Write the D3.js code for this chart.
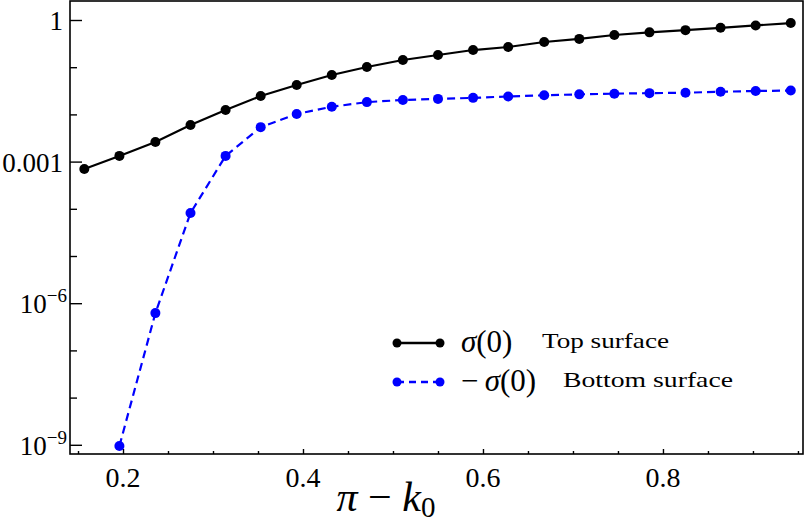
<!DOCTYPE html>
<html>
<head>
<meta charset="utf-8">
<script src="https://cdn.jsdelivr.net/npm/d3@7"></script>
<style>
  body { margin: 0; background: #fff; }
  svg text { font-family: "Liberation Serif", "DejaVu Serif", "Times New Roman", serif; }
</style>
</head>
<body>
<svg id="chart"></svg>
<script>
// x = pi - k0
const xVals = [0.157, 0.196, 0.236, 0.275, 0.314, 0.353, 0.393, 0.432, 0.471, 0.511, 0.550,
               0.589, 0.628, 0.668, 0.707, 0.746, 0.785, 0.825, 0.864, 0.903, 0.942];
// sigma(0), top surface
const topVals = [6.97e-4, 1.32e-3, 2.60e-3, 5.96e-3, 0.0124, 0.0245, 0.042, 0.0684, 0.101, 0.142, 0.181,
                 0.231, 0.268, 0.342, 0.398, 0.481, 0.547, 0.61, 0.684, 0.767, 0.861];
// -sigma(0), bottom surface (starts at second x)
const bottomVals = [null, 9.44e-10, 6.17e-7, 8.13e-5, 1.32e-3, 5.37e-3, 0.0102, 0.0145, 0.0182, 0.0202, 0.0213,
                    0.0224, 0.024, 0.0254, 0.0266, 0.0275, 0.0282, 0.0288, 0.0302, 0.0313, 0.032];

const xTicks = [0.2, 0.4, 0.6, 0.8];
const xMinor = [0.15, 0.25, 0.3, 0.35, 0.45, 0.5, 0.55, 0.65, 0.7, 0.75, 0.85, 0.9, 0.95];
const yTicks = [1, 1e-3, 1e-6, 1e-9];
const yMinor = [1e-1, 1e-2, 1e-4, 1e-5, 1e-7, 1e-8];
const yLabels = [["1", null], ["0.001", null], ["10", "\u22126"], ["10", "\u22129"]];

const W = 806, H = 526;
const plot = { left: 70, right: 803, top: 1, bottom: 454 };
const serif = "'Liberation Serif', 'DejaVu Serif', serif";

const svg = d3.select("#chart").attr("width", W).attr("height", H);

const x = d3.scaleLinear().domain([0.1411, 0.9556]).range([plot.left, plot.right]);
const y = d3.scaleLog().domain([Math.pow(10, -9.195), Math.pow(10, 0.4025)]).range([plot.bottom, plot.top]);

// frame
svg.append("rect")
  .attr("x", plot.left).attr("y", plot.top)
  .attr("width", plot.right - plot.left).attr("height", plot.bottom - plot.top)
  .attr("fill", "none").attr("stroke", "#000").attr("stroke-width", 1.6);

// axes, ticks inward
const axisStyle = g => {
  g.select(".domain").remove();
  g.selectAll(".tick line").attr("stroke", "#000").attr("stroke-width", 1.4);
};

svg.append("g").attr("transform", `translate(0,${plot.bottom})`)
  .call(d3.axisBottom(x).tickValues(xTicks).tickSize(-5).tickFormat(""))
  .call(axisStyle);
svg.append("g").attr("transform", `translate(0,${plot.bottom})`)
  .call(d3.axisBottom(x).tickValues(xMinor).tickSize(-3).tickFormat(""))
  .call(axisStyle);
svg.append("g").attr("transform", `translate(${plot.left},0)`)
  .call(d3.axisLeft(y).tickValues(yTicks).tickSize(-12).tickFormat(""))
  .call(axisStyle);
svg.append("g").attr("transform", `translate(${plot.left},0)`)
  .call(d3.axisLeft(y).tickValues(yMinor).tickSize(-7).tickFormat(""))
  .call(axisStyle);

// tick labels
svg.selectAll(".xlab").data(xTicks).enter().append("text")
  .attr("x", d => x(d)).attr("y", 487)
  .attr("text-anchor", "middle").attr("font-size", 28).attr("font-family", serif)
  .text(d => d3.format(".1f")(d));

yTicks.forEach((v, i) => {
  const [base, sup] = yLabels[i];
  const t = svg.append("text")
    .attr("x", sup ? 67 : 63).attr("y", y(v) + 10)
    .attr("text-anchor", "end").attr("font-size", 27).attr("font-family", serif);
  t.append("tspan").text(base);
  if (sup) t.append("tspan").attr("dy", -11).attr("font-size", 19).text(sup);
});

// axis title
const xt = svg.append("text").attr("x", 386).attr("y", 511)
  .attr("text-anchor", "middle").attr("font-size", 42).attr("font-family", serif);
xt.append("tspan").attr("font-style", "italic").text("\u03c0");
xt.append("tspan").text(" \u2212 ");
xt.append("tspan").attr("font-style", "italic").text("k");
xt.append("tspan").attr("dy", 6).attr("font-size", 29).text("0");

// series
const series = [
  { vals: topVals, color: "#000", dash: null },
  { vals: bottomVals, color: "#0000ff", dash: "8,5" }
];

series.forEach(s => {
  const pts = xVals.map((xv, i) => [xv, s.vals[i]]).filter(p => p[1] != null);
  svg.append("path")
    .datum(pts)
    .attr("fill", "none")
    .attr("stroke", s.color)
    .attr("stroke-width", 2.2)
    .attr("stroke-dasharray", s.dash)
    .attr("d", d3.line().x(d => x(d[0])).y(d => y(d[1])));
  svg.append("g").selectAll("circle")
    .data(pts).enter().append("circle")
    .attr("cx", d => x(d[0])).attr("cy", d => y(d[1]))
    .attr("r", 5).attr("fill", s.color);
});

// legend
const legend = [
  { y: 343, color: "#000", dash: null, sym: ["", "\u03c3", "(0)"], text: "Top surface", tx: 542, tl: 127 },
  { y: 382, color: "#0000ff", dash: "7,5", sym: ["\u2212", "\u03c3", "(0)"], text: "Bottom surface", tx: 563, tl: 170 }
];
legend.forEach(l => {
  svg.append("line").attr("x1", 397).attr("x2", 440).attr("y1", l.y).attr("y2", l.y)
    .attr("stroke", l.color).attr("stroke-width", 2.4).attr("stroke-dasharray", l.dash);
  [397, 440].forEach(cx => svg.append("circle").attr("cx", cx).attr("cy", l.y).attr("r", 4.5).attr("fill", l.color));
  const t = svg.append("text").attr("x", 461).attr("y", l.y + 9).attr("font-size", 31).attr("font-family", serif);
  if (l.sym[0]) t.append("tspan").text(l.sym[0] + "\u2009");
  t.append("tspan").attr("font-style", "italic").text(l.sym[1]);
  t.append("tspan").text(l.sym[2]);
  svg.append("text").attr("x", l.tx).attr("y", l.y + 5).attr("font-size", 22).attr("font-family", serif)
    .attr("textLength", l.tl).attr("lengthAdjust", "spacingAndGlyphs").text(l.text);
});
</script>
</body>
</html>
